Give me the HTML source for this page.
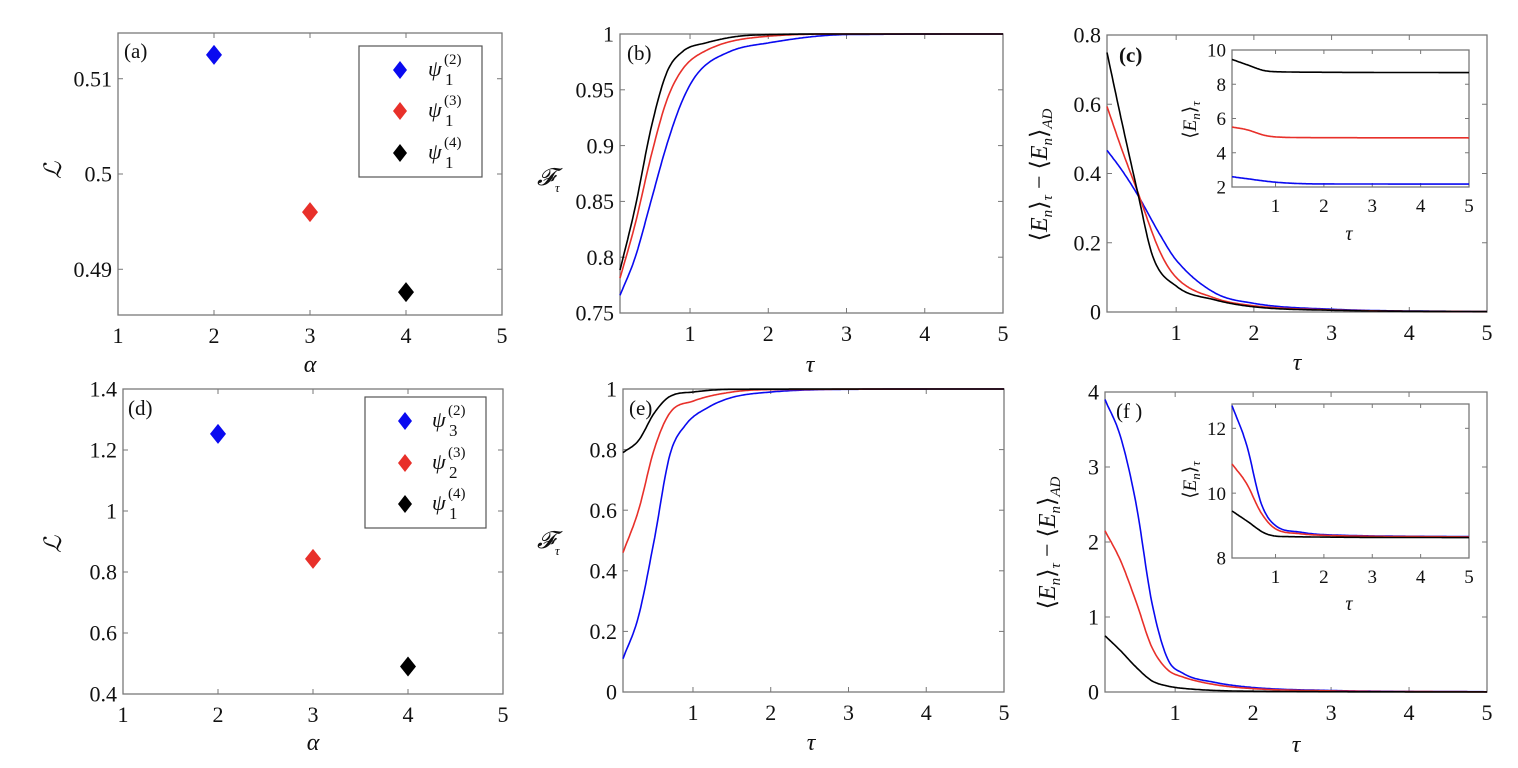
<!DOCTYPE html>
<html><head><meta charset="utf-8"><style>
html,body{margin:0;padding:0;background:#fff}
svg{display:block}
text{font-family:"Liberation Serif",serif;fill:#111}
</style></head><body>
<svg id="s" width="1518" height="768" viewBox="0 0 1518 768" xmlns="http://www.w3.org/2000/svg" font-family="Liberation Serif, serif"></svg>
<script>
const S=document.getElementById('s');let out='';
function mono(P){const n=P.length,xs=P.map(p=>p[0]),ys=P.map(p=>p[1]);const d=[],m=[];
for(let i=0;i<n-1;i++)d.push((ys[i+1]-ys[i])/(xs[i+1]-xs[i]));
m[0]=d[0];m[n-1]=d[n-2];for(let i=1;i<n-1;i++){m[i]=(d[i-1]*d[i]<=0)?0:(d[i-1]+d[i])/2;}
for(let i=0;i<n-1;i++){if(d[i]==0){m[i]=0;m[i+1]=0;continue;}const a=m[i]/d[i],b=m[i+1]/d[i],s=a*a+b*b;if(s>9){const t=3/Math.sqrt(s);m[i]=t*a*d[i];m[i+1]=t*b*d[i];}}
return x=>{let i=0;while(i<n-2&&x>xs[i+1])i++;const h=xs[i+1]-xs[i],t=(x-xs[i])/h,t2=t*t,t3=t2*t;
return (2*t3-3*t2+1)*ys[i]+(t3-2*t2+t)*h*m[i]+(-2*t3+3*t2)*ys[i+1]+(t3-t2)*h*m[i+1];};}
function ax(o){
 const X=v=>o.x0+(v-o.xmin)/(o.xmax-o.xmin)*(o.x1-o.x0),Y=v=>o.y1-(v-o.ymin)/(o.ymax-o.ymin)*(o.y1-o.y0);
 const fs=o.fs||22,tl=o.tl||5;
 out+=`<rect x="${o.x0}" y="${o.y0}" width="${o.x1-o.x0}" height="${o.y1-o.y0}" fill="#fff" stroke="#7a7a7a" stroke-width="1.3"/>`;
 for(const t of o.xt){const x=X(t);out+=`<line x1="${x}" y1="${o.y1}" x2="${x}" y2="${o.y1-tl}" stroke="#777"/><line x1="${x}" y1="${o.y0}" x2="${x}" y2="${o.y0+tl}" stroke="#777"/>`;
  out+=`<text x="${x}" y="${o.y1+fs+6}" font-size="${fs}" text-anchor="middle">${t}</text>`;}
 for(const t of o.yt){const y=Y(t[0]);out+=`<line x1="${o.x0}" y1="${y}" x2="${o.x0+tl}" y2="${y}" stroke="#777"/><line x1="${o.x1}" y1="${y}" x2="${o.x1-tl}" y2="${y}" stroke="#777"/>`;
  out+=`<text x="${o.x0-6}" y="${y+fs*0.35}" font-size="${fs}" text-anchor="end">${t[1]}</text>`;}
 return {X,Y};}
function curve(A,P,col,a,b){const f=mono(P);let d='';for(let i=0;i<=300;i++){const x=a+(b-a)*i/300;d+=(i?'L':'M')+A.X(x).toFixed(1)+','+A.Y(f(x)).toFixed(1);}
 out+=`<path d="${d}" fill="none" stroke="${col}" stroke-width="1.6"/>`;}
function dia(x,y,c,w=8,h=10){out+=`<path d="M${x},${y-h}L${x+w},${y}L${x},${y+h}L${x-w},${y}Z" fill="${c}"/>`;}
const B='#0a0af0',R='#e8302a',K='#000';
function psi(x,y,sub,sup){out+=`<text x="${x}" y="${y+6}" font-size="22" font-style="italic">ψ</text><text x="${x+16}" y="${y-6}" font-size="15">(${sup})</text><text x="${x+17}" y="${y+15}" font-size="17">${sub}</text>`;}
let A=ax({x0:118,x1:502,y0:33,y1:315,xmin:1,xmax:5,ymin:0.4852,ymax:0.5148,xt:[1,2,3,4,5],yt:[[0.49,'0.49'],[0.5,'0.5'],[0.51,'0.51']]});
dia(A.X(2),A.Y(0.5125),B);dia(A.X(3),A.Y(0.496),R);dia(A.X(4),A.Y(0.4876),K);
out+=`<text x="124" y="58" font-size="21">(a)</text>`;
out+=`<rect x="359" y="46" width="123" height="131" fill="#fff" stroke="#555" stroke-width="1.2"/>`;
dia(400,70,B,7,9);dia(400,111,R,7,9);dia(400,153,K,7,9);psi(428,70,1,2);psi(428,111,1,3);psi(428,153,1,4);
out+=`<text x="48" y="178" font-size="24" font-style="italic" transform="rotate(-90 55 172)">ℒ</text><text x="310" y="372" font-size="24" font-style="italic" text-anchor="middle">α</text>`;
A=ax({x0:620,x1:1003,y0:34,y1:313,xmin:0.105,xmax:5,ymin:0.75,ymax:1,xt:[1,2,3,4,5],yt:[[0.75,'0.75'],[0.8,'0.8'],[0.85,'0.85'],[0.9,'0.9'],[0.95,'0.95'],[1,'1']]});
curve(A,[[0.1,0.765],[0.3,0.80],[0.5,0.85],[0.7,0.90],[0.9,0.94],[1.1,0.965],[1.5,0.984],[2,0.992],[3,0.9995],[5,1]],B,0.105,5);
curve(A,[[0.1,0.78],[0.3,0.83],[0.5,0.89],[0.7,0.94],[0.9,0.968],[1.2,0.985],[2,0.998],[3,1],[5,1]],R,0.105,5);
curve(A,[[0.1,0.787],[0.3,0.845],[0.5,0.915],[0.7,0.965],[0.9,0.984],[1.2,0.992],[1.8,0.999],[3,1],[5,1]],K,0.105,5);
out+=`<text x="627" y="60" font-size="21">(b)</text>`;
out+=`<text x="537" y="185" font-size="24" font-style="italic">𝓕</text><text x="555" y="192" font-size="13" font-style="italic">τ</text><text x="810" y="372" font-size="24" font-style="italic" text-anchor="middle">τ</text>`;
A=ax({x0:1107,x1:1487,y0:35,y1:312,xmin:0.11,xmax:5,ymin:0,ymax:0.8,xt:[1,2,3,4,5],yt:[[0,'0'],[0.2,'0.2'],[0.4,'0.4'],[0.6,'0.6'],[0.8,'0.8']]});
curve(A,[[0.1,0.47],[0.3,0.41],[0.5,0.34],[0.8,0.22],[1,0.15],[1.5,0.055],[2,0.025],[3,0.008],[5,0.001]],B,0.11,5);
curve(A,[[0.1,0.6],[0.3,0.47],[0.5,0.35],[0.8,0.17],[1,0.1],[1.5,0.04],[2,0.018],[3,0.006],[5,0.001]],R,0.11,5);
curve(A,[[0.1,0.76],[0.3,0.55],[0.5,0.35],[0.7,0.16],[1,0.075],[1.5,0.035],[2,0.015],[3,0.005],[5,0.001]],K,0.11,5);
out+=`<text x="1119" y="62" font-size="21" font-weight="bold">(c)</text>`;
A=ax({x0:1232,x1:1469,y0:50,y1:187,xmin:0.1,xmax:5,ymin:2,ymax:10,xt:[1,2,3,4,5],yt:[[2,'2'],[4,'4'],[6,'6'],[8,'8'],[10,'10']],fs:19,tl:4});
curve(A,[[0.1,2.6],[0.5,2.45],[1,2.28],[1.5,2.2],[2,2.18],[5,2.17]],B,0.1,5);
curve(A,[[0.1,5.5],[0.4,5.35],[0.8,5.0],[1.2,4.9],[2,4.88],[5,4.87]],R,0.1,5);
curve(A,[[0.1,9.45],[0.4,9.15],[0.8,8.78],[1.2,8.72],[2,8.7],[5,8.68]],K,0.1,5);
out+=`<text x="1349" y="240" font-size="20" font-style="italic" text-anchor="middle">τ</text>`;
out+=`<g transform="translate(1196 120) rotate(-90)"><text x="0" y="0" font-size="19" text-anchor="middle">⟨<tspan font-style="italic">E</tspan><tspan font-size="13" dy="4" font-style="italic">n</tspan><tspan dy="-4">⟩</tspan><tspan font-size="13" dy="4" font-style="italic">τ</tspan></text></g>`;
out+=`<g transform="translate(1047 175) rotate(-90)"><text x="0" y="0" font-size="24" text-anchor="middle">⟨<tspan font-style="italic">E</tspan><tspan font-size="15" dy="5" font-style="italic">n</tspan><tspan dy="-5">⟩</tspan><tspan font-size="15" dy="5" font-style="italic">τ</tspan><tspan dy="-5"> − ⟨</tspan><tspan font-style="italic">E</tspan><tspan font-size="15" dy="5" font-style="italic">n</tspan><tspan dy="-5">⟩</tspan><tspan font-size="15" dy="5" font-style="italic">AD</tspan></text></g>`;
out+=`<text x="1297" y="370" font-size="24" font-style="italic" text-anchor="middle">τ</text>`;
A=ax({x0:123,x1:503,y0:389,y1:694,xmin:1,xmax:5,ymin:0.4,ymax:1.4,xt:[1,2,3,4,5],yt:[[0.4,'0.4'],[0.6,'0.6'],[0.8,'0.8'],[1,'1'],[1.2,'1.2'],[1.4,'1.4']]});
dia(A.X(2),A.Y(1.253),B);dia(A.X(3),A.Y(0.843),R);dia(A.X(4),A.Y(0.49),K);
out+=`<text x="128" y="415" font-size="21">(d)</text>`;
out+=`<rect x="365" y="397" width="121" height="131" fill="#fff" stroke="#555" stroke-width="1.2"/>`;
dia(405,421,B,7,9);dia(405,463,R,7,9);dia(405,504,K,7,9);psi(432,421,3,2);psi(432,463,2,3);psi(432,504,1,4);
out+=`<text x="48" y="552" font-size="24" font-style="italic" transform="rotate(-90 55 546)">ℒ</text><text x="313" y="750" font-size="24" font-style="italic" text-anchor="middle">α</text>`;
A=ax({x0:623,x1:1004,y0:389,y1:692,xmin:0.1,xmax:5,ymin:0,ymax:1,xt:[1,2,3,4,5],yt:[[0,'0'],[0.2,'0.2'],[0.4,'0.4'],[0.6,'0.6'],[0.8,'0.8'],[1,'1']]});
curve(A,[[0.1,0.11],[0.3,0.25],[0.5,0.5],[0.7,0.78],[0.9,0.88],[1.2,0.94],[1.5,0.972],[2,0.99],[3,0.999],[5,1]],B,0.1,5);
curve(A,[[0.1,0.46],[0.3,0.6],[0.5,0.8],[0.7,0.92],[1,0.96],[1.5,0.99],[2,0.998],[5,1]],R,0.1,5);
curve(A,[[0.1,0.79],[0.3,0.83],[0.5,0.92],[0.7,0.975],[1,0.99],[1.5,0.999],[5,1]],K,0.1,5);
out+=`<text x="629" y="415" font-size="21">(e)</text>`;
out+=`<text x="537" y="548" font-size="24" font-style="italic">𝓕</text><text x="555" y="555" font-size="13" font-style="italic">τ</text><text x="811" y="750" font-size="24" font-style="italic" text-anchor="middle">τ</text>`;
A=ax({x0:1105,x1:1487,y0:392,y1:692,xmin:0.1,xmax:5,ymin:0,ymax:4,xt:[1,2,3,4,5],yt:[[0,'0'],[1,'1'],[2,'2'],[3,'3'],[4,'4']]});
curve(A,[[0.1,3.9],[0.3,3.4],[0.5,2.5],[0.7,1.2],[0.9,0.45],[1.1,0.25],[1.5,0.13],[2,0.06],[3,0.02],[5,0.003]],B,0.1,5);
curve(A,[[0.1,2.15],[0.3,1.75],[0.5,1.2],[0.7,0.6],[0.9,0.3],[1.1,0.2],[1.5,0.1],[2,0.045],[3,0.015],[5,0.002]],R,0.1,5);
curve(A,[[0.1,0.75],[0.3,0.55],[0.5,0.33],[0.7,0.15],[0.9,0.08],[1.2,0.04],[2,0.01],[5,0.001]],K,0.1,5);
out+=`<text x="1116" y="418" font-size="21">(f )</text>`;
A=ax({x0:1232,x1:1469,y0:404,y1:558,xmin:0.1,xmax:5,ymin:8,ymax:12.75,xt:[1,2,3,4,5],yt:[[8,'8'],[10,'10'],[12,'12']],fs:19,tl:4});
curve(A,[[0.1,12.7],[0.4,11.5],[0.7,9.7],[1,9.0],[1.5,8.8],[2,8.72],[5,8.66]],B,0.1,5);
curve(A,[[0.1,10.9],[0.4,10.3],[0.7,9.4],[1,8.9],[1.5,8.75],[2,8.7],[5,8.65]],R,0.1,5);
curve(A,[[0.1,9.45],[0.4,9.15],[0.8,8.75],[1.2,8.66],[5,8.63]],K,0.1,5);
out+=`<text x="1349" y="610" font-size="20" font-style="italic" text-anchor="middle">τ</text>`;
out+=`<g transform="translate(1196 480) rotate(-90)"><text x="0" y="0" font-size="19" text-anchor="middle">⟨<tspan font-style="italic">E</tspan><tspan font-size="13" dy="4" font-style="italic">n</tspan><tspan dy="-4">⟩</tspan><tspan font-size="13" dy="4" font-style="italic">τ</tspan></text></g>`;
out+=`<g transform="translate(1055 543) rotate(-90)"><text x="0" y="0" font-size="24" text-anchor="middle">⟨<tspan font-style="italic">E</tspan><tspan font-size="15" dy="5" font-style="italic">n</tspan><tspan dy="-5">⟩</tspan><tspan font-size="15" dy="5" font-style="italic">τ</tspan><tspan dy="-5"> − ⟨</tspan><tspan font-style="italic">E</tspan><tspan font-size="15" dy="5" font-style="italic">n</tspan><tspan dy="-5">⟩</tspan><tspan font-size="15" dy="5" font-style="italic">AD</tspan></text></g>`;
out+=`<text x="1296" y="752" font-size="24" font-style="italic" text-anchor="middle">τ</text>`;
S.innerHTML=out;
</script>
</body></html>
